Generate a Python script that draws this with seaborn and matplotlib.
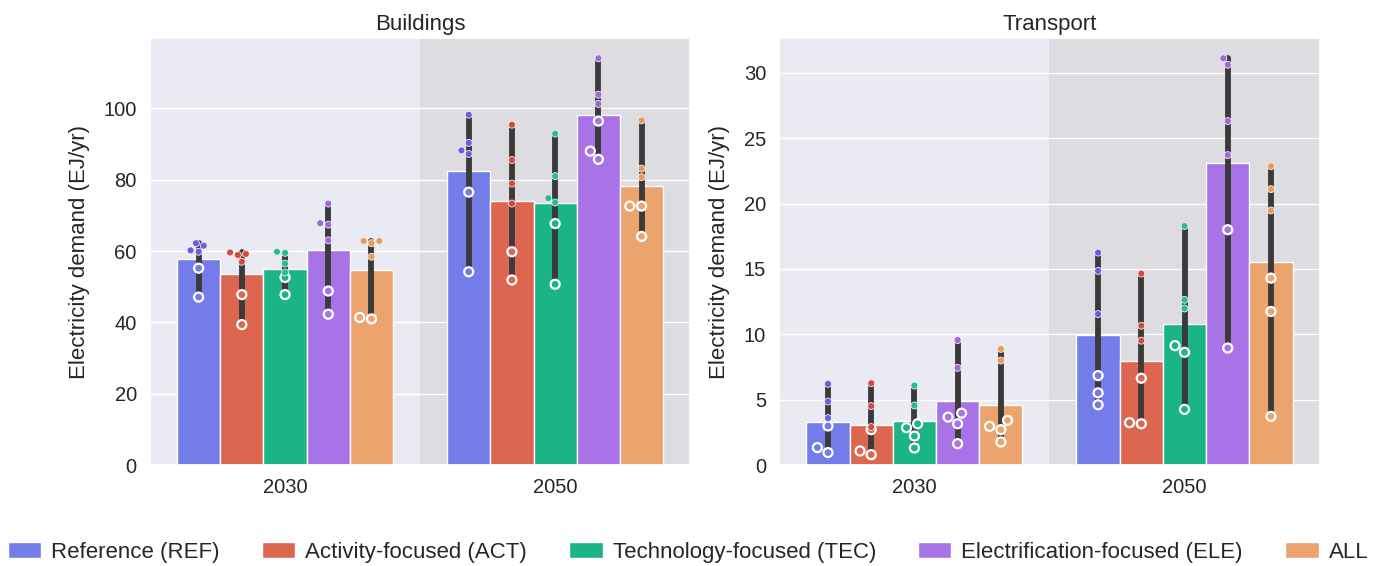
import pandas as pd
import matplotlib
matplotlib.use("Agg")
import matplotlib.pyplot as plt
import seaborn as sns

sns.set_theme(style="darkgrid")
plt.rcParams['font.family'] = ['Liberation Sans', 'DejaVu Sans']

scenarios = ["Reference (REF)", "Activity-focused (ACT)", "Technology-focused (TEC)",
             "Electrification-focused (ELE)", "ALL"]
years = ["2030", "2050"]
bar_colors = ["#737CE8", "#DC6650", "#1AB487", "#A873E6", "#ECA46E"]
dot_colors = ["#6A5CDE", "#D8483A", "#1EC08E", "#9C68DA", "#EA9C56"]

# filled dots / open rings, one list per scenario (EJ/yr)
bld_2030_dots = [[62.2, 61.5, 60.2, 59.8], [59.6, 59.2, 58.9, 57.0], [59.8, 59.5, 56.5, 54.0],
                 [73.3, 67.8, 67.4, 63.0], [62.8, 62.2, 62.8, 58.4]]
bld_2030_rings = [[55.2, 47.1], [47.8, 39.4], [52.6, 47.8], [48.8, 42.3], [41.4, 41.0]]
bld_2050_dots = [[98.2, 90.3, 88.2, 87.2], [95.4, 85.5, 78.9, 73.3], [92.9, 81.0, 74.8, 73.6],
                 [114.0, 103.8, 101.2], [96.6, 83.1, 80.7]]
bld_2050_rings = [[76.5, 54.2], [59.8, 51.9], [67.7, 50.7], [96.4, 88.0, 85.7], [72.6, 72.6, 64.1]]

trn_2030_dots = [[6.22, 4.87, 3.6], [6.27, 4.52, 2.92], [6.09, 4.57], [9.57, 7.44], [8.89, 8.0]]
trn_2030_rings = [[3.0, 1.35, 0.97], [2.72, 1.09, 0.81], [3.17, 2.87, 2.23, 1.32],
                  [3.98, 3.68, 3.17, 1.65], [3.43, 2.97, 2.72, 1.78]]
trn_2050_dots = [[16.25, 14.85, 11.55], [14.65, 10.66, 9.52], [18.28, 12.64, 11.98],
                 [31.1, 30.6, 26.3, 23.7], [22.85, 21.1, 19.47]]
trn_2050_rings = [[6.85, 5.53, 4.62], [6.65, 3.25, 3.17], [9.14, 8.63, 4.27],
                  [18.0, 8.96], [14.3, 11.75, 3.73]]


def make_df(dots_30, rings_30, dots_50, rings_50):
    rows = []
    for year, dots, rings in [("2030", dots_30, rings_30), ("2050", dots_50, rings_50)]:
        for i, sc in enumerate(scenarios):
            for v in dots[i]:
                rows.append((year, sc, v, "dot"))
            for v in rings[i]:
                rows.append((year, sc, v, "ring"))
    return pd.DataFrame(rows, columns=["year", "scenario", "value", "kind"])


df_bld = make_df(bld_2030_dots, bld_2030_rings, bld_2050_dots, bld_2050_rings)
df_trn = make_df(trn_2030_dots, trn_2030_rings, trn_2050_dots, trn_2050_rings)

fig, axes = plt.subplots(1, 2, figsize=(13.76, 5.66), dpi=100)
fig.subplots_adjust(left=0.109, right=0.959, top=0.933, bottom=0.178, wspace=0.165)

for ax, df, title in [(axes[0], df_bld, "Buildings"), (axes[1], df_trn, "Transport")]:
    # darker band behind the 2050 group
    ax.axvspan(0.5, 1.5, color="#DCDCE1", zorder=0.1, lw=0)
    sns.barplot(data=df, x="year", y="value", hue="scenario", order=years, hue_order=scenarios,
                palette=bar_colors, saturation=1, errorbar=("pi", 100),
                err_kws={"color": "#3a3a3a", "linewidth": 4.2},
                edgecolor="white", linewidth=1, ax=ax)
    sns.swarmplot(data=df[df.kind == "ring"], x="year", y="value", hue="scenario", order=years,
                  hue_order=scenarios, palette=bar_colors, dodge=True, size=6.5,
                  edgecolor="white", linewidth=1.6, zorder=3, legend=False, ax=ax)
    sns.swarmplot(data=df[df.kind == "dot"], x="year", y="value", hue="scenario", order=years,
                  hue_order=scenarios, palette=dot_colors, dodge=True, size=5,
                  edgecolor="#f4eefa", linewidth=0.6, zorder=4, legend=False, ax=ax)
    ax.set_xlim(-0.5, 1.5)
    ax.set_title(title, fontsize=16)
    ax.set_xlabel("")
    ax.set_ylabel("Electricity demand (EJ/yr)", fontsize=16, labelpad=10)
    ax.tick_params(labelsize=14.5)

handles, labels = axes[0].get_legend_handles_labels()
for a in axes:
    if a.get_legend() is not None:
        a.get_legend().remove()
fig.legend(handles[:5], labels[:5], loc="lower center", bbox_to_anchor=(0.5, -0.03), ncol=5,
           frameon=False, fontsize=16, handlelength=1.5, handleheight=0.7,
           handletextpad=0.45, columnspacing=1.9)

fig.savefig("out.png", dpi=100)
